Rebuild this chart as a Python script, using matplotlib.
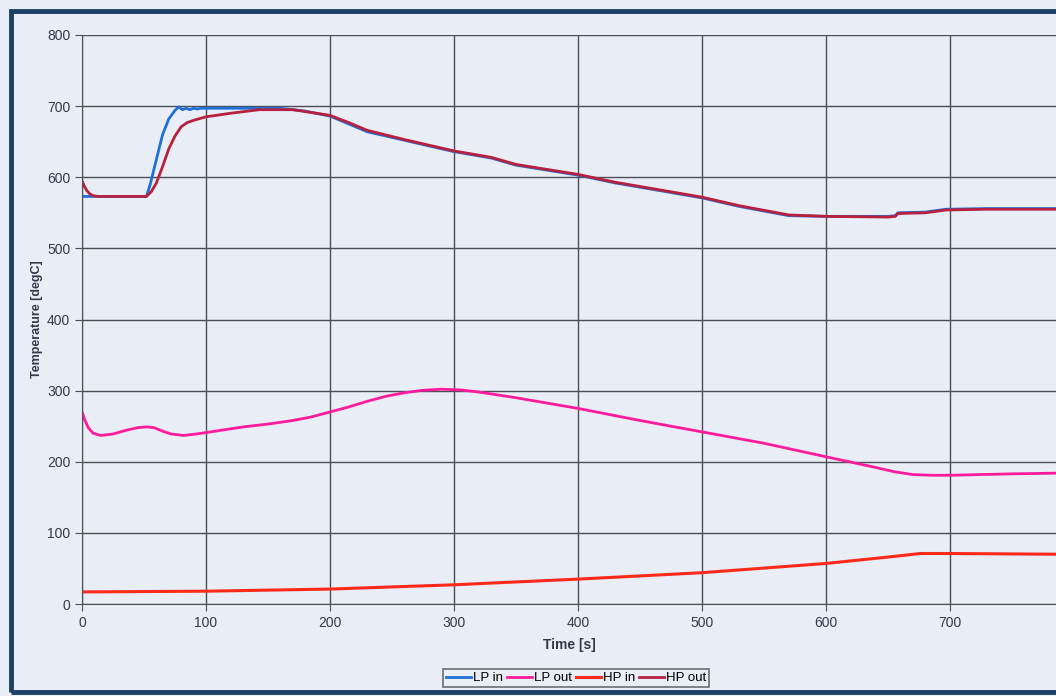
import matplotlib
matplotlib.use("Agg")
import matplotlib.pyplot as plt
from matplotlib.patches import Rectangle

plt.rcParams['font.family'] = ['Liberation Sans', 'DejaVu Sans']

# data
lp_in_t = [0, 10, 30, 52, 55, 60, 65, 70, 75, 78, 81, 84, 87, 90, 93, 96, 100, 120, 140, 160, 180, 200,
           215, 230, 260, 300, 330, 350, 400, 430, 470, 500, 530, 570, 600, 650, 656, 658, 680, 697, 730, 786]
lp_in_v = [573, 573, 573, 573, 590, 625, 660, 682, 694, 699, 695, 697, 695, 697, 696, 697, 697, 697, 697, 697, 693, 686,
           675, 664, 652, 636, 627, 617, 603, 592, 580, 571, 559, 546, 545, 545, 546, 550, 551, 555, 556, 556]

lp_out_t = [0, 2, 5, 9, 15, 25, 35, 45, 52, 58, 65, 72, 82, 92, 100, 115, 130, 150, 170, 185, 200,
            215, 230, 245, 260, 275, 290, 305, 320, 350, 400, 450, 500, 550, 600, 640, 655, 670, 685, 700, 750, 786]
lp_out_v = [270, 260, 248, 240, 237, 239, 244, 248, 249, 248, 243, 239, 237, 239, 241, 245, 249, 253, 258, 263, 270,
            277, 285, 292, 297, 300.5, 302, 301, 298, 290, 275, 258, 242, 226, 207, 192, 186, 182, 181, 181, 183, 184]

hp_in_t = [0, 100, 200, 300, 400, 500, 600, 650, 676, 700, 786]
hp_in_v = [17, 18, 21, 27, 35, 44, 57, 66, 71, 71, 70]

hp_out_t = [0, 2, 4, 6, 9, 13, 20, 40, 52, 56, 60, 65, 70, 75, 80, 85, 90, 100, 120, 143, 170, 200, 215, 230, 260,
            300, 330, 350, 400, 430, 470, 500, 530, 570, 600, 650, 656, 658, 680, 697, 730, 786]
hp_out_v = [595, 587, 581, 577, 574, 573, 573, 573, 573, 580, 592, 615, 640, 658, 671, 677, 680, 685, 690, 695, 695, 687,
            677, 666, 653, 637, 628, 618, 604, 593, 581, 572, 560, 547, 545, 544, 545, 549, 550, 554, 555, 555]

labels = ["LP in", "LP out", "HP in", "HP out"]
colors = ["#1f6fd6", "#ff1c9c", "#ff2a1a", "#b8203e"]

bg = "#e9edf6"
fig = plt.figure(figsize=(10.56, 6.96), dpi=100, facecolor=bg)
W, H = 1056, 696

# outer chart frame
fig.patches.append(Rectangle((11 / W, 4 / H), 1.2, (685 - 4) / H, transform=fig.transFigure,
                             fill=False, edgecolor="#1d3f66", linewidth=3.5, clip_on=False))

ax = fig.add_axes([82 / W, 1 - 604 / H, (1056 - 82) / W, (604 - 35) / H])
ax.set_facecolor(bg)

ax.plot(lp_in_t, lp_in_v, color=colors[0], lw=2, label=labels[0])
ax.plot(lp_out_t, lp_out_v, color=colors[1], lw=2, label=labels[1])
ax.plot(hp_in_t, hp_in_v, color=colors[2], lw=2.2, label=labels[2])
ax.plot(hp_out_t, hp_out_v, color=colors[3], lw=2, label=labels[3])

ax.set_xlim(0, 785.5)
ax.set_ylim(0, 800)
ax.set_xticks(range(0, 800, 100))
ax.set_yticks(range(0, 801, 100))
ax.grid(True, color="#4a4f55", lw=1)
ax.set_axisbelow(True)
for s in ["top", "right"]:
    ax.spines[s].set_visible(False)
for s in ["left", "bottom"]:
    ax.spines[s].set_color("#4a4f55")
ax.tick_params(colors="#4a4f55", labelcolor="#333a48", labelsize=10, length=5, direction="out")

ax.set_xlabel("Time [s]", fontsize=10, fontweight="bold", color="#333a48", labelpad=6)
ax.set_ylabel("Temperature [degC]", fontsize=9, fontweight="bold", color="#333a48", labelpad=3)

leg = fig.legend(loc="center", bbox_to_anchor=(576 / W, 1 - 678 / H), ncol=4, fontsize=9.5,
                 handlelength=1.9, handletextpad=0.15, columnspacing=0.3, borderpad=0.2,
                 frameon=True, fancybox=False, edgecolor="#4a4f55", facecolor=bg)
leg.get_frame().set_linewidth(1.2)

fig.savefig("out.png", dpi=100, facecolor=bg)
